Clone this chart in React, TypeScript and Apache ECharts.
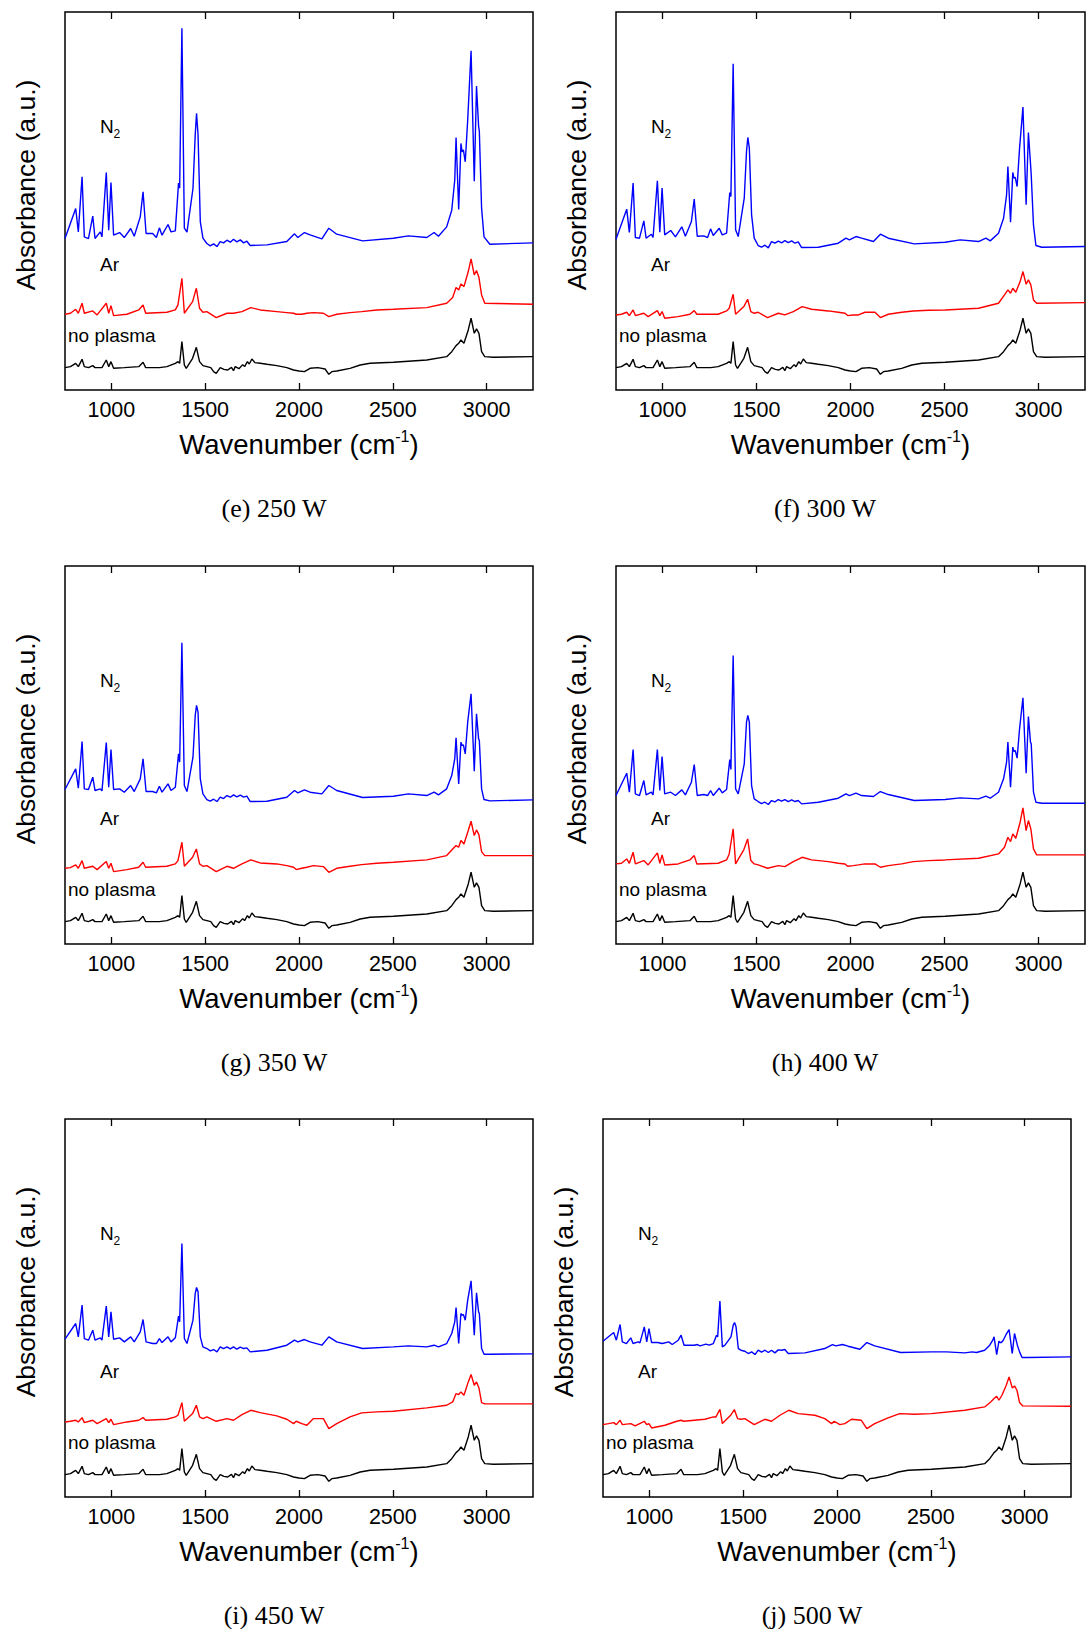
import React, { useEffect, useRef } from "react";
import * as echarts from "echarts";

// ---------- axes ----------
const X_MIN = 753;
const X_MAX = 3247;
const X_TICKS = [1000, 1500, 2000, 2500, 3000];
const Y_MAX = 1133; // absorbance, arbitrary units (offset traces)

// ---------- N2 plasma spectra (blue) ----------
const N2_WAVENUMBERS = [
  753, 810, 824, 844, 856, 878, 901, 913, 941, 950,
  973, 986, 998, 1012, 1044, 1069, 1103, 1122, 1154, 1169,
  1185, 1220, 1240, 1256, 1270, 1302, 1318, 1341, 1358, 1364,
  1376, 1389, 1403, 1435, 1447, 1454, 1462, 1474, 1488, 1509,
  1527, 1545, 1563, 1580, 1598, 1616, 1634, 1651, 1669, 1687,
  1705, 1722, 1740, 1829, 1935, 1976, 1994, 2029, 2059, 2122,
  2159, 2201, 2339, 2503, 2583, 2681, 2720, 2743, 2787, 2814,
  2830, 2837, 2851, 2863, 2869, 2876, 2886, 2899, 2917, 2934,
  2946, 2957, 2961, 2973, 2986, 3017, 3247,
];
const N2_250W = [
  454, 544, 474, 639, 459, 454, 521, 454, 474, 459,
  652, 479, 622, 464, 472, 457, 484, 461, 519, 594,
  469, 469, 457, 486, 464, 496, 474, 477, 620, 605,
  1084, 485, 473, 604, 765, 829, 765, 505, 455, 439,
  432, 438, 430, 445, 441, 449, 443, 452, 444, 450,
  441, 446, 433, 435, 445, 468, 457, 472, 465, 453,
  485, 467, 447, 455, 462, 457, 472, 461, 489, 539,
  629, 757, 541, 739, 714, 720, 684, 809, 1017, 626,
  911, 791, 775, 545, 459, 437, 441,
];
const N2_300W = [
  452, 542, 472, 620, 457, 455, 507, 455, 467, 457,
  627, 473, 605, 465, 478, 459, 489, 461, 505, 572,
  461, 462, 457, 483, 463, 485, 465, 470, 592, 580,
  978, 480, 460, 575, 715, 757, 725, 525, 455, 433,
  428, 434, 426, 445, 440, 446, 441, 448, 442, 447,
  440, 444, 427, 428, 440, 455, 450, 460, 455, 445,
  467, 455, 438, 443, 450, 445, 455, 447, 470, 515,
  585, 670, 503, 652, 635, 637, 610, 725, 848, 555,
  772, 680, 645, 495, 433, 428, 430,
];
const N2_350W = [
  463, 525, 467, 607, 465, 463, 500, 460, 465, 459,
  604, 470, 583, 463, 465, 455, 475, 457, 495, 555,
  457, 457, 453, 473, 455, 480, 460, 470, 570, 545,
  903, 475, 457, 560, 685, 715, 695, 495, 450, 433,
  428, 434, 427, 440, 436, 445, 440, 447, 441, 446,
  440, 443, 427, 428, 440, 460, 453, 462, 455, 450,
  475, 460, 439, 443, 450, 445, 455, 447, 465, 505,
  555, 618, 480, 605, 595, 597, 570, 665, 750, 518,
  690, 615, 610, 465, 433, 429, 432,
];
const N2_400W = [
  445, 512, 455, 583, 450, 445, 490, 447, 455, 447,
  583, 460, 562, 450, 455, 445, 462, 447, 485, 538,
  445, 448, 445, 460, 445, 467, 453, 463, 553, 523,
  865, 465, 450, 540, 665, 685, 665, 475, 435, 427,
  421, 425, 418, 430, 426, 433, 428, 433, 427, 432,
  427, 430, 420, 425, 437, 450, 445, 452, 445, 442,
  457, 448, 430, 433, 438, 435, 443, 437, 455, 495,
  545, 605, 470, 590, 577, 580, 557, 645, 738, 512,
  682, 605, 600, 455, 425, 422, 422,
];
const N2_450W = [
  473, 520, 480, 575, 475, 470, 500, 470, 477, 470,
  572, 480, 555, 473, 477, 465, 480, 465, 495, 532,
  465, 460, 460, 475, 463, 480, 465, 477, 542, 525,
  760, 475, 460, 530, 610, 628, 615, 480, 450, 445,
  438, 442, 435, 450, 445, 450, 444, 450, 443, 449,
  445, 447, 435, 440, 455, 470, 465, 472, 465, 455,
  480, 465, 445, 450, 453, 450, 455, 450, 460, 490,
  525, 568, 460, 550, 545, 547, 530, 590, 648, 485,
  612, 555, 550, 445, 428, 428, 429,
];
const N2_500W = [
  467, 493, 470, 517, 465, 460, 477, 460, 465, 462,
  510, 465, 505, 463, 463, 460, 465, 457, 470, 485,
  455, 455, 455, 457, 453, 458, 455, 460, 485, 480,
  587, 450, 455, 480, 515, 523, 510, 445, 440, 437,
  430, 435, 427, 440, 434, 440, 433, 440, 432, 441,
  440, 442, 430, 432, 445, 457, 453, 457, 452, 443,
  463, 453, 433, 435, 435, 432, 435, 433, 440, 455,
  470, 480, 427, 467, 463, 463, 470, 485, 502, 430,
  490, 465, 455, 435, 418, 418, 420,
];

// ---------- Ar plasma spectra (red) ----------
const AR_WAVENUMBERS = [
  753, 782, 810, 824, 844, 856, 901, 924, 973, 986,
  998, 1012, 1083, 1146, 1169, 1183, 1296, 1341, 1355, 1376,
  1389, 1433, 1453, 1470, 1488, 1509, 1559, 1616, 1651, 1696,
  1743, 1793, 1882, 1935, 1971, 1985, 2015, 2042, 2077, 2130,
  2159, 2201, 2272, 2334, 2414, 2503, 2681, 2787, 2819, 2837,
  2851, 2863, 2879, 2902, 2917, 2934, 2946, 2959, 2973, 2990, 3247,
];
const AR_250W = [
  227, 230, 242, 230, 260, 230, 237, 225, 260, 230,
  253, 223, 227, 240, 255, 230, 233, 240, 255, 335,
  230, 265, 305, 245, 233, 235, 217, 230, 230, 235,
  247, 240, 235, 232, 230, 227, 227, 230, 232, 230,
  220, 227, 232, 235, 240, 242, 247, 260, 277, 307,
  300, 318, 310, 355, 393, 345, 358, 337, 285, 260, 257,
];
const AR_300W = [
  225, 227, 233, 223, 240, 223, 230, 220, 238, 223,
  235, 215, 220, 227, 238, 227, 227, 237, 245, 287,
  227, 250, 272, 235, 230, 233, 217, 230, 225, 235,
  250, 242, 237, 233, 230, 223, 225, 225, 233, 233,
  217, 227, 233, 237, 239, 240, 245, 260, 285, 300,
  290, 305, 293, 325, 355, 317, 330, 315, 270, 260, 262,
];
const AR_350W = [
  227, 229, 237, 227, 250, 227, 233, 223, 247, 227,
  242, 217, 223, 230, 245, 230, 233, 240, 250, 305,
  233, 260, 285, 240, 233, 235, 217, 233, 227, 240,
  252, 243, 240, 235, 230, 223, 227, 230, 235, 232,
  215, 227, 233, 238, 242, 245, 252, 265, 285, 295,
  290, 310, 300, 340, 368, 325, 342, 327, 277, 265, 265,
];
const AR_400W = [
  240, 242, 255, 242, 275, 240, 250, 237, 273, 242,
  267, 237, 240, 252, 265, 240, 242, 252, 270, 345,
  240, 283, 315, 250, 240, 237, 227, 235, 232, 247,
  260, 252, 247, 242, 240, 233, 235, 237, 240, 240,
  230, 235, 240, 247, 250, 252, 257, 270, 290, 320,
  307, 330, 317, 365, 408, 340, 370, 345, 285, 267, 267,
];
const AR_450W = [
  225, 227, 230, 225, 238, 223, 230, 220, 235, 223,
  233, 217, 225, 230, 238, 230, 233, 240, 245, 283,
  227, 250, 275, 240, 235, 240, 227, 235, 230, 247,
  260, 253, 243, 233, 220, 227, 220, 215, 235, 235,
  205, 220, 240, 252, 255, 257, 267, 275, 285, 310,
  307, 315, 305, 345, 367, 335, 345, 327, 283, 279, 279,
];
const AR_500W = [
  217, 220, 223, 217, 230, 217, 220, 213, 227, 217,
  220, 207, 215, 227, 230, 227, 233, 240, 240, 263,
  220, 245, 262, 235, 233, 235, 217, 233, 227, 245,
  260, 250, 245, 235, 220, 227, 217, 220, 233, 230,
  205, 220, 237, 250, 248, 250, 260, 270, 285, 295,
  302, 290, 305, 335, 360, 327, 333, 320, 283, 273, 272,
];

// ---------- untreated film (black, same in every panel) ----------
const NO_PLASMA_WAVENUMBERS = [
  753, 782, 810, 824, 844, 856, 878, 901, 913, 950,
  973, 986, 998, 1012, 1069, 1146, 1169, 1183, 1256, 1296,
  1341, 1355, 1364, 1376, 1389, 1399, 1433, 1453, 1470, 1488,
  1509, 1530, 1545, 1559, 1580, 1600, 1620, 1640, 1651, 1660,
  1680, 1700, 1710, 1725, 1735, 1749, 1765, 1793, 1829, 1882,
  1935, 1971, 2000, 2029, 2059, 2100, 2139, 2159, 2175, 2201,
  2272, 2326, 2379, 2503, 2681, 2787, 2814, 2837, 2851, 2863,
  2879, 2902, 2917, 2934, 2946, 2959, 2973, 2990, 3035, 3247,
];
const NO_PLASMA = [
  67, 70, 80, 70, 92, 70, 67, 73, 67, 67,
  90, 70, 85, 65, 67, 70, 83, 67, 67, 70,
  80, 85, 80, 145, 75, 65, 95, 128, 85, 73,
  70, 67, 55, 50, 67, 62, 60, 68, 58, 70,
  64, 76, 70, 85, 78, 93, 82, 80, 77, 73,
  67, 60, 57, 55, 65, 67, 63, 47, 55, 57,
  65, 75, 80, 83, 90, 100, 115, 133, 140, 150,
  140, 180, 215, 170, 183, 170, 115, 100, 98, 100,
];

// ---------- panels ----------
const CAPTIONS = ["(e) 250 W", "(f) 300 W", "(g) 350 W", "(h) 400 W", "(i) 450 W", "(j) 500 W"];
const N2_SERIES = [N2_250W, N2_300W, N2_350W, N2_400W, N2_450W, N2_500W];
const AR_SERIES = [AR_250W, AR_300W, AR_350W, AR_400W, AR_450W, AR_500W];

const LAYOUT = [
  { left: 65, top: 12, width: 468 },
  { left: 616, top: 12, width: 469 },
  { left: 65, top: 566, width: 468 },
  { left: 616, top: 566, width: 469 },
  { left: 65, top: 1119, width: 468 },
  { left: 603, top: 1119, width: 468 },
];
const PLOT_H = 378;

const SANS = "'Liberation Sans', Arial, Helvetica, sans-serif";
const SERIF = "'Liberation Serif', 'Times New Roman', serif";

const zip = (xs: number[], ys: number[]) => xs.map((x, i) => [x, ys[i]]);

function txt(x: number, y: number, style: any, extra: any = {}) {
  return {
    type: "text",
    x,
    y,
    silent: true,
    ...extra,
    style: {
      fill: "#000",
      fontFamily: SANS,
      ...style,
      textAlign: style.align,
      textVerticalAlign: style.verticalAlign,
    },
  };
}

function buildOption() {
  const grid: any[] = [];
  const xAxis: any[] = [];
  const yAxis: any[] = [];
  const series: any[] = [];
  const graphic: any[] = [];

  LAYOUT.forEach((p, i) => {
    grid.push({
      left: p.left,
      top: p.top,
      width: p.width,
      height: PLOT_H,
      show: true,
      borderColor: "#000",
      borderWidth: 1.5,
      backgroundColor: "transparent",
    });
    const baseX = {
      gridIndex: i,
      type: "value",
      min: X_MIN,
      max: X_MAX,
      axisLine: { show: false },
      splitLine: { show: false },
      axisTick: {
        show: true,
        inside: true,
        length: 7,
        customValues: X_TICKS,
        lineStyle: { color: "#000", width: 1.3 },
      },
    };
    xAxis.push({
      ...baseX,
      position: "bottom",
      axisLabel: {
        show: true,
        customValues: X_TICKS,
        formatter: (v: number) => String(v),
        margin: 9,
        fontSize: 21.5,
        fontFamily: SANS,
        color: "#000",
      },
    });
    xAxis.push({ ...baseX, position: "top", axisLabel: { show: false } });
    yAxis.push({ gridIndex: i, type: "value", min: 0, max: Y_MAX, show: false });

    const mk = (name: string, data: number[][], color: string) => ({
      name,
      type: "line",
      xAxisIndex: 2 * i,
      yAxisIndex: i,
      data,
      symbol: "none",
      showSymbol: false,
      silent: true,
      clip: true,
      lineStyle: { color, width: 1.4 },
      itemStyle: { color },
    });
    series.push(mk("N2", zip(N2_WAVENUMBERS, N2_SERIES[i]), "#0000ff"));
    series.push(mk("Ar", zip(AR_WAVENUMBERS, AR_SERIES[i]), "#ff0000"));
    series.push(mk("no plasma", zip(NO_PLASMA_WAVENUMBERS, NO_PLASMA), "#000000"));

    const L = p.left;
    const T = p.top;
    const B = p.top + PLOT_H;

    graphic.push(
      txt(
        L - 39.5,
        T + 173,
        { text: "Absorbance (a.u.)", fontSize: 26.5, align: "center", verticalAlign: "middle" },
        { rotation: Math.PI / 2 }
      )
    );
    graphic.push(
      txt(L + p.width / 2, B + 53, {
        text: "{a|Wavenumber (cm}{b|-1}{a|)}",
        align: "center",
        verticalAlign: "middle",
        rich: {
          a: { fontSize: 27.5, fontFamily: SANS, lineHeight: 30, verticalAlign: "bottom", fill: "#000" },
          b: { fontSize: 16, fontFamily: SANS, lineHeight: 17, verticalAlign: "top", fill: "#000" },
        },
      })
    );
    graphic.push(
      txt(L + 209, B + 118.5, {
        text: CAPTIONS[i],
        fontSize: 26,
        fontFamily: SERIF,
        align: "center",
        verticalAlign: "middle",
      })
    );
    graphic.push(txt(L + 35, T + 114, { text: "N", fontSize: 19, align: "left", verticalAlign: "middle" }));
    graphic.push(txt(L + 48.5, T + 121.5, { text: "2", fontSize: 12, align: "left", verticalAlign: "middle" }));
    graphic.push(txt(L + 35, T + 252.5, { text: "Ar", fontSize: 19, align: "left", verticalAlign: "middle" }));
    graphic.push(txt(L + 3, T + 323, { text: "no plasma", fontSize: 19, align: "left", verticalAlign: "middle" }));
  });

  return {
    animation: false,
    backgroundColor: "#ffffff",
    grid,
    xAxis,
    yAxis,
    series,
    graphic: { elements: graphic },
  };
}

export default function App() {
  const ref = useRef<HTMLDivElement>(null);
  useEffect(() => {
    if (!ref.current) return;
    const chart = echarts.init(ref.current, undefined, { renderer: "svg" });
    chart.setOption(buildOption() as any);
    return () => chart.dispose();
  }, []);
  return (
    <div
      ref={ref}
      style={{ position: "absolute", left: 0, top: 0, width: 1086, height: 1629, background: "#fff" }}
    />
  );
}
